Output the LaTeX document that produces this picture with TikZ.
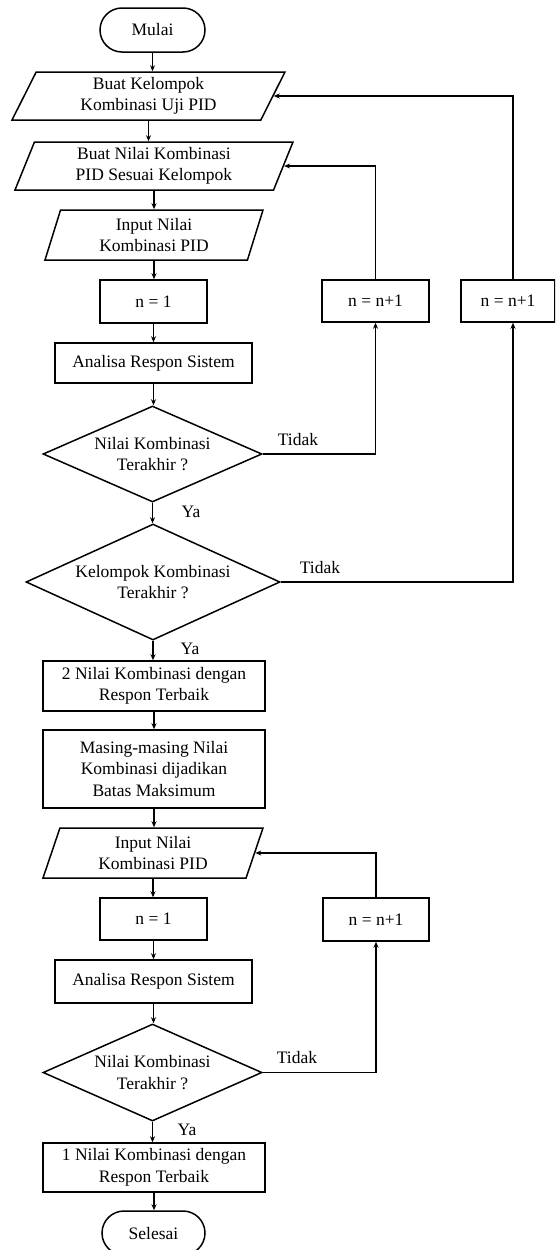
\documentclass[tikz,border=0pt]{standalone}
\usepackage{fontspec}
\setmainfont{Liberation Serif}
\usetikzlibrary{shapes.geometric,shapes.misc,arrows.meta}
\begin{document}
\begin{tikzpicture}[x=1pt,y=-1pt,
  line width=1.5pt,
  every node/.style={font=\fontsize{17.5}{21.5}\selectfont, align=center},
  term/.style={draw, rounded rectangle, minimum width=105pt, minimum height=44pt, inner sep=0pt},
  proc/.style={draw, rectangle, inner sep=0pt},
  io/.style={draw, trapezium, trapezium stretches body, inner sep=0pt},
  dec/.style={draw, diamond, inner sep=0pt},
  arr/.style={-{Stealth[length=6pt,width=5pt]}},
  lbl/.style={inner sep=0pt}
]
\clip (0,0) rectangle (555,1250);
\fill[white] (0,0) rectangle (555,1250);

% main column
\node[term] (start) at (152.5,30) {Mulai};
\node[io, trapezium left angle=57.1, trapezium right angle=122.9,
      minimum width=273pt, minimum height=48pt] (p1) at (148.5,96) {Buat Kelompok\\Kombinasi Uji PID};
\node[io, trapezium left angle=62.5, trapezium right angle=117.5,
      minimum width=278pt, minimum height=48pt] (p2) at (154,166) {Buat Nilai Kombinasi\\PID Sesuai Kelompok};
\node[io, trapezium left angle=65.3, trapezium right angle=114.7,
      minimum width=218pt, minimum height=50pt] (p3) at (154,235) {Input Nilai\\Kombinasi PID};
\node[proc, minimum width=107pt, minimum height=43pt] (n1) at (153.5,301.5) {n = 1};
\node[proc, minimum width=197pt, minimum height=40pt] (ana1) at (153.5,363) {Analisa Respon Sistem};
\node[dec, aspect=2.28, minimum width=219pt, minimum height=96pt] (d1) at (152.5,454) {Nilai Kombinasi\\Terakhir ?};
\node[dec, aspect=2.19, minimum width=254pt, minimum height=116pt] (d2) at (153,582) {Kelompok Kombinasi\\Terakhir ?};
\node[proc, minimum width=222pt, minimum height=50pt] (best2) at (154,686) {2 Nilai Kombinasi dengan\\Respon Terbaik};
\node[proc, minimum width=222pt, minimum height=78pt] (mas) at (154,769) {Masing-masing Nilai\\Kombinasi dijadikan\\Batas Maksimum};
\node[io, trapezium left angle=63.4, trapezium right angle=116.6,
      minimum width=220pt, minimum height=50pt] (p4) at (153,853) {Input Nilai\\Kombinasi PID};
\node[proc, minimum width=107pt, minimum height=42pt] (n1b) at (153.5,919) {n = 1};
\node[proc, minimum width=197pt, minimum height=43pt] (ana2) at (153.5,981.5) {Analisa Respon Sistem};
\node[dec, aspect=2.26, minimum width=219pt, minimum height=97pt] (d3) at (152.5,1072.5) {Nilai Kombinasi\\Terakhir ?};
\node[proc, minimum width=222pt, minimum height=49pt] (best1) at (154,1167.5) {1 Nilai Kombinasi dengan\\Respon Terbaik};
\node[term, minimum width=103pt] (stop) at (153.5,1233) {Selesai};

% counter boxes
\node[proc, minimum width=107pt, minimum height=42pt] (incA) at (375.5,301) {n = n+1};
\node[proc, minimum width=94pt, minimum height=42pt] (incB) at (508,301) {n = n+1};
\node[proc, minimum width=106pt, minimum height=43pt] (incC) at (376,919.5) {n = n+1};

% branch labels
\node[lbl] (t1) at (298,440) {Tidak};
\node[lbl] (t2) at (320,568) {Tidak};
\node[lbl] (t3) at (297,1058) {Tidak};
\node[lbl] (y1) at (191,512) {Ya};
\node[lbl] (y2) at (190,649) {Ya};
\node[lbl] (y3) at (187,1130) {Ya};

% main flow
\draw[arr] (start.south) -- (start.south |- p1.north);
\draw[arr] (p1.south) -- (p1.south |- p2.north);
\draw[arr] (p2.south) -- (p2.south |- p3.north);
\draw[arr] (p3.south) -- (p3.south |- n1.north);
\draw[arr] (n1.south) -- (n1.south |- ana1.north);
\draw[arr] (ana1.south) -- (ana1.south |- d1.north);
\draw[arr] (d1.south) -- (d1.south |- d2.north);
\draw[arr] (d2.south) -- (d2.south |- best2.north);
\draw[arr] (best2.south) -- (best2.south |- mas.north);
\draw[arr] (mas.south) -- (mas.south |- p4.north);
\draw[arr] (p4.south) -- (p4.south |- n1b.north);
\draw[arr] (n1b.south) -- (n1b.south |- ana2.north);
\draw[arr] (ana2.south) -- (ana2.south |- d3.north);
\draw[arr] (d3.south) -- (d3.south |- best1.north);
\draw[arr] (best1.south) -- (best1.south |- stop.north);

% loops
\draw[arr] (d1.east) -| (incA.south);
\draw[arr] (incA.north) |- (p2.east);
\draw[arr] (d2.east) -| ([xshift=5pt]incB.south);
\draw[arr] ([xshift=5pt]incB.north) |- (p1.east);
\draw[arr] (d3.east) -| (incC.south);
\draw[arr] (incC.north) |- (p4.east);
\end{tikzpicture}
\end{document}
